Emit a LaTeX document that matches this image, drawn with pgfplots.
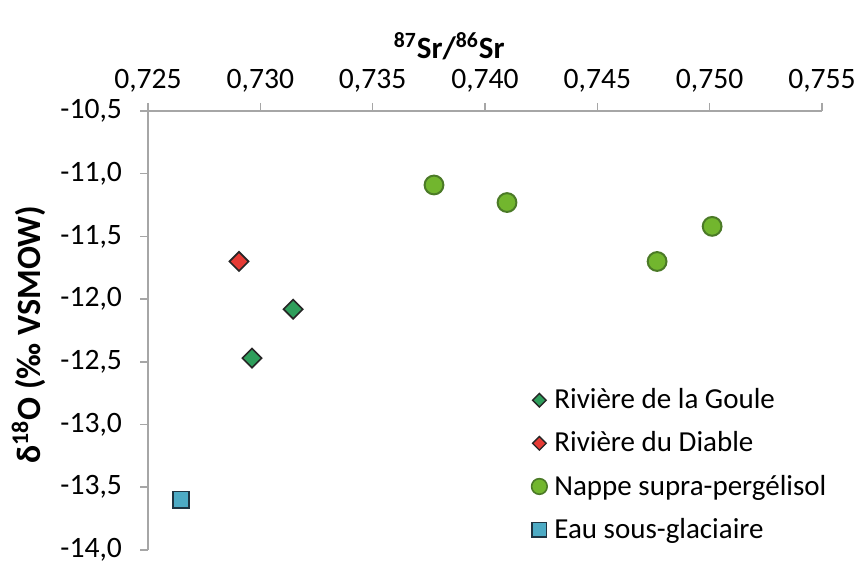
\documentclass[border=0pt]{standalone}
\usepackage{fontspec}
\setmainfont{Carlito}
\usepackage{pgfplots}
\pgfplotsset{compat=1.18}
\definecolor{goule}{HTML}{2E9E5B}
\definecolor{diable}{HTML}{E53B35}
\definecolor{nappe}{HTML}{72B62E}
\definecolor{nappeedge}{HTML}{4B7A27}
\definecolor{eau}{HTML}{4DABC5}
\definecolor{eauedge}{HTML}{1E3442}
\definecolor{axisgray}{HTML}{A6A6A6}
\begin{document}
\begin{tikzpicture}
\begin{axis}[
  scale only axis,
  width=337pt, height=219.5pt,
  xmin=0.725, xmax=0.755,
  ymin=-14, ymax=-10.5,
  xtick={0.725,0.730,...,0.7551},
  ytick={-14,-13.5,...,-10.4},
  axis x line*=top,
  axis y line*=left,
  axis line style={axisgray, line width=0.8pt},
  tick style={axisgray, line width=0.8pt},
  tick align=outside,
  major tick length=4pt,
  clip=false,
  tick label style={font=\fontsize{14.8pt}{17pt}\selectfont},
  /pgf/number format/assume math mode=true,
  xticklabel style={yshift=2pt, /pgf/number format/.cd, use comma, fixed, fixed zerofill, precision=3},
  yticklabel style={xshift=-5.5pt, /pgf/number format/.cd, use comma, fixed, fixed zerofill, precision=1},
  scaled x ticks=false,
  xlabel={\textbf{\textsuperscript{87}Sr/\textsuperscript{86}Sr}},
  xlabel style={at={(rel axis cs:0.447,1.148)}, anchor=center, inner sep=0pt, font=\fontsize{15.5pt}{17pt}\selectfont},
  ylabel={\textbf{δ\textsuperscript{18}O (‰ VSMOW)}},
  ylabel style={at={(rel axis cs:-0.177,0.49)}, anchor=center, rotate=0, inner sep=0pt, font=\fontsize{17pt}{19pt}\selectfont},
  legend style={at={(rel axis cs:1.013,0.01)}, anchor=south east, draw=none, fill=none,
    font=\fontsize{14.5pt}{17pt}\selectfont, row sep=6pt, inner sep=0pt},
  legend cell align=left,
]
\coordinate (bl) at (rel axis cs:-0.2196,-0.038);
\coordinate (tr) at (rel axis cs:1.0475,1.2528);
\addplot[only marks, mark=square*, mark options={rotate=45}, mark size=3.4pt, fill=goule, draw=black!85, line width=0.8pt,
  legend image code/.code={\draw[only marks, mark=square*, mark options={rotate=45}, mark size=2.4pt, fill=goule, draw=black!85, line width=0.7pt] plot coordinates {(0cm,0cm)}; \path (5pt,0pt);}]
  coordinates {(0.73146,-12.08) (0.72963,-12.47)};
\addlegendentry{Rivière de la Goule}
\addplot[only marks, mark=square*, mark options={rotate=45}, mark size=3.4pt, fill=diable, draw=black!85, line width=0.8pt,
  legend image code/.code={\draw[only marks, mark=square*, mark options={rotate=45}, mark size=2.4pt, fill=diable, draw=black!85, line width=0.7pt] plot coordinates {(0cm,0cm)}; \path (5pt,0pt);}]
  coordinates {(0.72905,-11.70)};
\addlegendentry{Rivière du Diable}
\addplot[only marks, mark=*, mark size=4.7pt, fill=nappe, draw=nappeedge, line width=1pt,
  legend image code/.code={\draw[only marks, mark=*, mark size=3.9pt, fill=nappe, draw=nappeedge, line width=0.8pt] plot coordinates {(0cm,0cm)}; \path (5pt,0pt);}]
  coordinates {(0.73773,-11.09) (0.74098,-11.23) (0.74766,-11.70) (0.75011,-11.42)};
\addlegendentry{Nappe supra-pergélisol}
\addplot[only marks, mark=square*, mark size=4.1pt, fill=eau, draw=eauedge, line width=0.9pt,
  legend image code/.code={\draw[only marks, mark=square*, mark size=3.6pt, fill=eau, draw=eauedge, line width=0.8pt] plot coordinates {(0cm,0cm)}; \path (5pt,0pt);}]
  coordinates {(0.72647,-13.60)};
\addlegendentry{Eau sous-glaciaire}
\end{axis}
\pgfresetboundingbox
\useasboundingbox (bl) rectangle (tr);
\end{tikzpicture}
\end{document}
